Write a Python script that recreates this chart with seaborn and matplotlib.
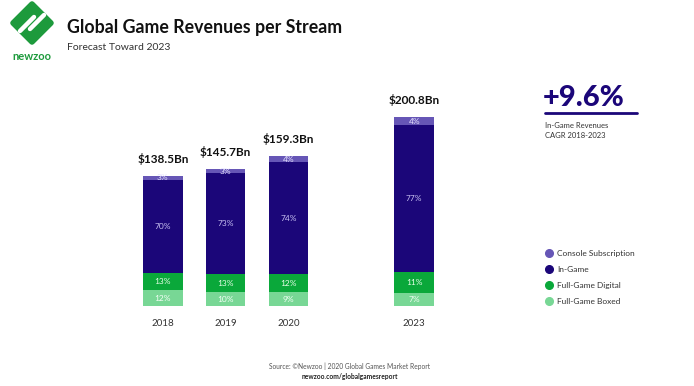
import matplotlib
matplotlib.use('Agg')

import matplotlib.pyplot as plt
from matplotlib.lines import Line2D
from matplotlib.patches import Polygon
import numpy as np
import pandas as pd
import seaborn as sns

# Data
years = ["2018", "2019", "2020", "2023"]
year_pos = [0, 1, 2, 4]
totals = [138.5, 145.7, 159.3, 200.8]
total_labels = ["$138.5Bn", "$145.7Bn", "$159.3Bn", "$200.8Bn"]

segments = ["Full-Game Boxed", "Full-Game Digital", "In-Game", "Console Subscription"]
boxed_pct = [12, 10, 9, 7]
digital_pct = [13, 13, 12, 11]
ingame_pct = [70, 73, 74, 77]
console_pct = [3, 3, 4, 4]

seg_colors = {
    "Full-Game Boxed": "#78d795",
    "Full-Game Digital": "#0aa83a",
    "In-Game": "#1b0679",
    "Console Subscription": "#6656b6",
}
label_colors = {
    "Full-Game Boxed": "#f4fff6",
    "Full-Game Digital": "#e8ffe8",
    "In-Game": "#c9c2f2",
    "Console Subscription": "#e6e2ff",
}

W, H = 694, 386

sns.set_theme(style="white")
plt.rcParams['font.family'] = ['Lato', 'DejaVu Sans']


def fx(px):
    return px / W


def fy(py):
    return 1 - py / H


# segment values, scaled so each bar reaches its total
pct = pd.DataFrame({
    "Full-Game Boxed": boxed_pct,
    "Full-Game Digital": digital_pct,
    "In-Game": ingame_pct,
    "Console Subscription": console_pct,
}, index=years)
share = pct.div(pct.sum(axis=1), axis=0)
values = share.mul(totals, axis=0)
cum = values.cumsum(axis=1)
bottoms = cum - values

fig = plt.figure(figsize=(W / 100, H / 100), dpi=100)
ax = fig.add_axes([fx(100), fy(306), fx(477) - fx(100), fy(90) - fy(306)])

# overlay cumulative bars, tallest first
for seg in reversed(segments):
    df = pd.DataFrame({"pos": year_pos, "val": cum[seg].values})
    sns.barplot(data=df, x="pos", y="val", native_scale=True, width=0.63,
                color=seg_colors[seg], saturation=1, linewidth=0, ax=ax)

# percent labels in each segment
for seg in segments:
    for i, yr in enumerate(years):
        mid = bottoms.loc[yr, seg] + values.loc[yr, seg] / 2
        ax.text(year_pos[i], mid, f"{pct.loc[yr, seg]}%", ha="center", va="center",
                fontsize=6, color=label_colors[seg])

# totals above the bars
for i, lab in enumerate(total_labels):
    ax.annotate(lab, (year_pos[i], totals[i]), xytext=(0, 8), textcoords="offset points",
                ha="center", va="bottom", fontsize=8.5, fontweight="bold", color="#111111")

ax.set_xlim(-1.0, 5.0)
ax.set_ylim(0, 230)
ax.set_xticks(year_pos)
ax.set_xticklabels(years, fontsize=7, color="#333333")
ax.tick_params(axis="x", length=0, pad=9)
ax.set_yticks([])
ax.set_xlabel("")
ax.set_ylabel("")
sns.despine(ax=ax, left=True, bottom=True)

# header
fig.text(fx(67), fy(27), "Global Game Revenues per Stream", fontsize=12.8, fontweight="bold",
         color="#111111", va="center", ha="left")
fig.text(fx(67), fy(48), "Forecast Toward 2023", fontsize=7.5, color="#333333",
         va="center", ha="left")

# logo: green diamond with stripes + wordmark
cx, cy, r = 32, 23, 19
diamond = Polygon([(fx(cx), fy(cy - r)), (fx(cx + r), fy(cy)), (fx(cx), fy(cy + r)),
                   (fx(cx - r), fy(cy))], closed=True, transform=fig.transFigure,
                  facecolor="#1d9a3c", edgecolor="#1d9a3c", linewidth=4, joinstyle="round")
fig.add_artist(diamond)
for off in (-5, 5):
    fig.add_artist(Line2D([fx(cx - 7 + off), fx(cx + 7 + off)], [fy(cy + 7 - off * 0.2), fy(cy - 7 - off * 0.2)],
                          transform=fig.transFigure, color="white", linewidth=3.2,
                          solid_capstyle="round"))
fig.text(fx(32), fy(56), "newzoo", fontsize=8, fontweight="bold", color="#1d9a3c",
         ha="center", va="center")

# CAGR callout
fig.text(fx(543), fy(98), "+9.6%", fontsize=21, fontweight="black", color="#1b0679",
         ha="left", va="center")
fig.add_artist(Line2D([fx(545), fx(637)], [fy(113), fy(113)], transform=fig.transFigure,
                      color="#1b0679", linewidth=2))
fig.text(fx(545), fy(126), "In-Game Revenues", fontsize=5.5, color="#333333", va="center")
fig.text(fx(545), fy(135), "CAGR 2018-2023", fontsize=5.5, color="#333333", va="center")

# legend
handles = [Line2D([], [], linestyle="none", marker="o", markersize=5.5,
                  markerfacecolor=seg_colors[s], markeredgecolor=seg_colors[s], label=s)
           for s in reversed(segments)]
fig.legend(handles=handles, loc="upper left", bbox_to_anchor=(fx(541), fy(247)),
           frameon=False, fontsize=6, labelspacing=1.05, handletextpad=0.5,
           handlelength=1.0, borderaxespad=0, labelcolor="#333333")

# source
fig.text(fx(350), fy(366), "Source: \u00a9Newzoo | 2020 Global Games Market Report",
         fontsize=4.8, color="#555555", ha="center", va="center")
fig.text(fx(350), fy(376), "newzoo.com/globalgamesreport", fontsize=4.8, fontweight="bold",
         color="#222222", ha="center", va="center")

fig.savefig("out.png", dpi=100)
